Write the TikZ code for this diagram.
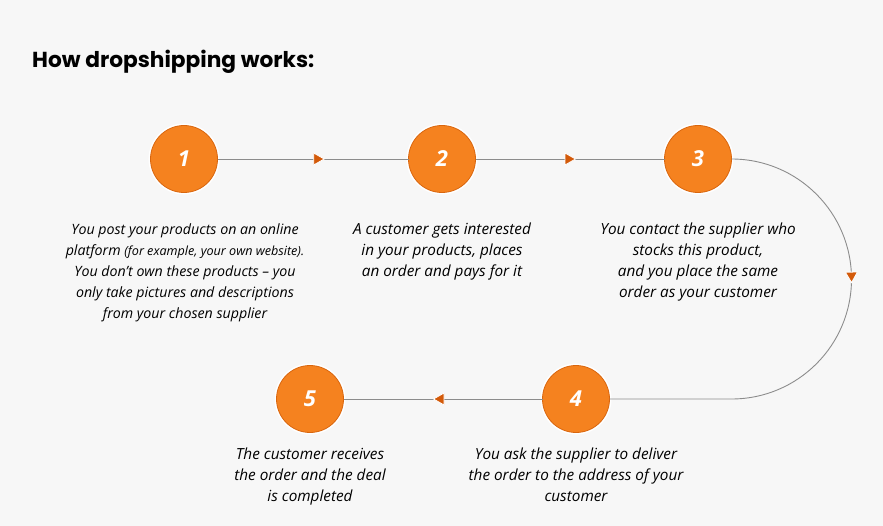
\documentclass[tikz,border=0pt]{standalone}
\usepackage{fontspec}
\setmainfont{Open Sans}
\newfontfamily\titlefont{Poppins}
\usetikzlibrary{decorations.markings}
\definecolor{bgc}{HTML}{F7F7F7}
\definecolor{circfill}{HTML}{F5821F}
\definecolor{circedge}{HTML}{D9660E}
\definecolor{arrc}{HTML}{D35A0A}
\definecolor{linec}{HTML}{8C8C8C}
\tikzset{
  stepcirc/.style={circle, fill=circfill, draw=circedge, line width=0.8pt, minimum size=67pt, inner sep=0pt, outer sep=0pt,
    font=\fontsize{22}{22}\selectfont\bfseries\itshape, text=white,
    preaction={draw=white, line width=4pt}},
  desc/.style={align=center, font=\fontsize{15.3}{21}\selectfont\itshape, text=black, inner sep=0pt, anchor=north},
  conn/.style={draw=linec, line width=0.9pt},
  tri/.style={decoration={markings, mark=at position #1 with {\fill[arrc, draw=white, line width=0.8pt] (5.5,0) -- (-5,6) -- (-5,-6) -- cycle;}}, postaction={decorate}}
}
\begin{document}
\begin{tikzpicture}[x=1pt,y=-1pt]
\fill[bgc] (0,0) rectangle (883,526);
\useasboundingbox (0,0) rectangle (883,526);
\node[anchor=base west, inner sep=0pt, font=\titlefont\fontsize{21.7}{21.7}\selectfont\bfseries] (title) at (32,68) {How dropshipping works:};
\node[stepcirc] (c1) at (184,159) {1};
\node[stepcirc] (c2) at (442,159) {2};
\node[stepcirc] (c3) at (698,159) {3};
\node[stepcirc] (c4) at (576,399) {4};
\node[stepcirc] (c5) at (310,399) {5};
\path[conn, tri=0.53] (c1) -- (c2);
\path[conn, tri=0.5] (c2) -- (c3);
\path[conn, tri=0.374] (c3.east) arc[start angle=-90, end angle=90, radius=120] -- (c4.east);
\path[conn, tri=0.52] (c4) -- (c5);
\node[desc, font=\fontsize{14.2}{21}\selectfont\itshape] (t1) at (185,224) {You post your products on an online\\ platform {\fontsize{12.6}{21}\selectfont(for example, your own website).}\\ You don't own these products -- you\\ only take pictures and descriptions\\ from your chosen supplier};
\node[desc] (t2) at (442,223) {A customer gets interested\\ in your products, places\\ an order and pays for it};
\node[desc] (t3) at (698,223) {You contact the supplier who\\ stocks this product,\\ and you place the same\\ order as your customer};
\node[desc] (t5) at (310,448) {The customer receives\\ the order and the deal\\ is completed};
\node[desc] (t4) at (576,448) {You ask the supplier to deliver\\ the order to the address of your\\ customer};
\end{tikzpicture}
\end{document}
